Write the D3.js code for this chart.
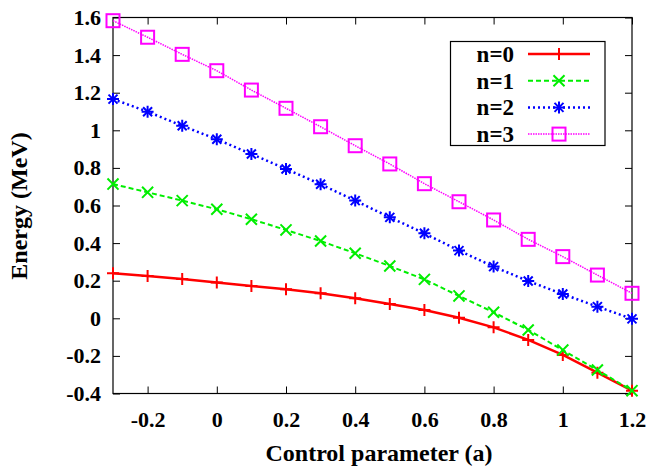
<!DOCTYPE html>
<html>
<head>
<meta charset="utf-8">
<script src="https://cdn.jsdelivr.net/npm/d3@7"></script>
<style>
  html, body { margin: 0; padding: 0; background: #fff; }
  svg { display: block; }
  svg text { font-family: 'Liberation Serif', serif; font-weight: bold; }
</style>
</head>
<body>
<svg id="chart" width="648" height="469"></svg>
<script>
// Energy levels vs control parameter
const params = [-0.3, -0.2, -0.1, 0, 0.1, 0.2, 0.3, 0.4, 0.5, 0.6, 0.7, 0.8, 0.9, 1.0, 1.1, 1.2];
const energyN0 = [0.239, 0.225, 0.209, 0.191, 0.172, 0.154, 0.133, 0.107, 0.076, 0.044, 0.003, -0.048, -0.115, -0.195, -0.289, -0.385];
const energyN1 = [0.714, 0.670, 0.626, 0.580, 0.527, 0.470, 0.411, 0.346, 0.278, 0.207, 0.119, 0.032, -0.062, -0.169, -0.275, -0.385];
const energyN2 = [1.166, 1.099, 1.024, 0.952, 0.874, 0.794, 0.713, 0.626, 0.537, 0.452, 0.360, 0.275, 0.198, 0.129, 0.062, -0.003];
const energyN3 = [1.583, 1.495, 1.404, 1.317, 1.214, 1.117, 1.019, 0.918, 0.821, 0.716, 0.620, 0.523, 0.420, 0.328, 0.230, 0.133];
const seriesNames = ['n=0', 'n=1', 'n=2', 'n=3'];
const xTicks = [-0.2, 0, 0.2, 0.4, 0.6, 0.8, 1, 1.2];
const yTicks = [-0.4, -0.2, 0, 0.2, 0.4, 0.6, 0.8, 1, 1.2, 1.4, 1.6];

const series = [
    { name: seriesNames[0], values: energyN0, color: '#ff0000', dash: null, width: 2.5, marker: 'plus' },
    { name: seriesNames[1], values: energyN1, color: '#00ee00', dash: '5,3', width: 2, marker: 'cross' },
    { name: seriesNames[2], values: energyN2, color: '#0000ff', dash: '2,3', width: 2.5, marker: 'star' },
    { name: seriesNames[3], values: energyN3, color: '#ff00ff', dash: '1.5,1', width: 1.5, marker: 'square' }
];

const FONT = "'Liberation Serif', serif";

const svg = d3.select('#chart');
const margin = { top: 17.5, right: 16, bottom: 75.5, left: 113 };
const width = 648, height = 469;
const innerW = width - margin.left - margin.right;
const innerH = height - margin.top - margin.bottom;

const x = d3.scaleLinear().domain([-0.3, 1.2]).range([0, innerW]);
const y = d3.scaleLinear().domain([-0.4, 1.6]).range([innerH, 0]);

const g = svg.append('g').attr('transform', `translate(${margin.left},${margin.top})`);

const fmt = d => String(+d.toFixed(1));
const tickLen = 7;

// axes, ticks pointing inward like gnuplot
g.append('g')
    .attr('transform', `translate(0,${innerH})`)
    .call(d3.axisBottom(x).tickValues(xTicks).tickSize(-tickLen).tickPadding(18).tickFormat(fmt));
g.append('g')
    .call(d3.axisTop(x).tickValues(xTicks).tickSize(-tickLen).tickFormat(''));
g.append('g')
    .call(d3.axisLeft(y).tickValues(yTicks).tickSize(-tickLen).tickPadding(12).tickFormat(fmt));
g.append('g')
    .attr('transform', `translate(${innerW},0)`)
    .call(d3.axisRight(y).tickValues(yTicks).tickSize(-tickLen).tickFormat(''));

g.selectAll('.domain').remove();
g.selectAll('.tick line').attr('stroke', '#000').attr('stroke-width', 1);
g.selectAll('.tick text')
    .attr('fill', '#000')
    .style('font-family', FONT)
    .style('font-weight', 'bold')
    .style('font-size', '22px');

// frame
g.append('rect')
    .attr('width', innerW)
    .attr('height', innerH)
    .attr('fill', 'none')
    .attr('stroke', '#000')
    .attr('stroke-width', 1.2);

// markers
function drawMarker(sel, type, color, size) {
    const h = size / 2;
    if (type === 'plus' || type === 'star') {
        sel.append('path').attr('d', `M${-h},0H${h}M0,${-h}V${h}`)
            .attr('stroke', color).attr('stroke-width', 2).attr('fill', 'none');
    }
    if (type === 'cross' || type === 'star') {
        const k = type === 'star' ? h * 0.75 : h * 0.85;
        sel.append('path').attr('d', `M${-k},${-k}L${k},${k}M${-k},${k}L${k},${-k}`)
            .attr('stroke', color).attr('stroke-width', 2).attr('fill', 'none');
    }
    if (type === 'square') {
        sel.append('rect').attr('x', -h).attr('y', -h).attr('width', size).attr('height', size)
            .attr('stroke', color).attr('stroke-width', 2).attr('fill', 'none');
    }
}
const markerSize = { plus: 12, cross: 13, star: 12, square: 13 };

const line = d3.line()
    .x((d, i) => x(params[i]))
    .y(d => y(d));

series.forEach(s => {
    g.append('path')
        .datum(s.values)
        .attr('d', line)
        .attr('fill', 'none')
        .attr('stroke', s.color)
        .attr('stroke-width', s.width)
        .attr('stroke-dasharray', s.dash);

    g.append('g').selectAll('g')
        .data(s.values)
        .enter()
        .append('g')
        .attr('transform', (d, i) => `translate(${x(params[i])},${y(d)})`)
        .each(function() { drawMarker(d3.select(this), s.marker, s.color, markerSize[s.marker]); });
});

// legend
const legend = svg.append('g');
legend.append('rect')
    .attr('x', 450.5).attr('y', 41.5)
    .attr('width', 154.5).attr('height', 104)
    .attr('fill', '#fff')
    .attr('stroke', '#000')
    .attr('stroke-width', 1.2);

series.forEach((s, i) => {
    const ly = 54 + i * 26.7;
    legend.append('text')
        .attr('x', 514).attr('y', ly)
        .attr('dy', '0.35em')
        .attr('text-anchor', 'end')
        .style('font-family', FONT)
        .style('font-size', '23px')
        .text(s.name);
    legend.append('line')
        .attr('x1', 528).attr('x2', 590)
        .attr('y1', ly).attr('y2', ly)
        .attr('stroke', s.color)
        .attr('stroke-width', s.width)
        .attr('stroke-dasharray', s.dash);
    const mk = legend.append('g').attr('transform', `translate(559,${ly})`);
    drawMarker(mk, s.marker, s.color, markerSize[s.marker]);
});

// axis titles
svg.append('text')
    .attr('x', 379).attr('y', 461)
    .attr('text-anchor', 'middle')
    .style('font-family', FONT)
    .style('font-size', '24px')
    .text('Control parameter (a)');

svg.append('text')
    .attr('transform', 'translate(27,206) rotate(-90)')
    .attr('text-anchor', 'middle')
    .style('font-family', FONT)
    .style('font-size', '24px')
    .text('Energy (MeV)');
</script>
</body>
</html>
